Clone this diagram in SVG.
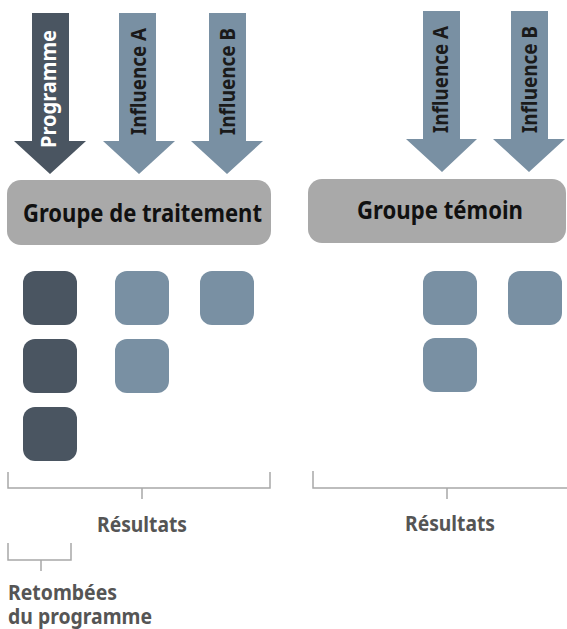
<svg xmlns="http://www.w3.org/2000/svg" width="567" height="629" viewBox="0 0 567 629">
  <style>
    .dark { fill: #4a5561; }
    .light { fill: #7990a3; }
    .box { fill: #a9a9a9; }
    .boxtxt { font-family: "Noto Sans", "Open Sans", sans-serif; font-weight: 700; font-size: 25px; fill: #111111; text-anchor: middle; }
    .arrtxt { font-family: "Noto Sans", "Open Sans", sans-serif; font-weight: 700; font-size: 22px; text-anchor: end; }
    .onDark { fill: #ffffff; }
    .onLight { fill: #1a1a1a; }
    .lbl { font-family: "Noto Sans", "Open Sans", sans-serif; font-weight: 700; font-size: 22px; fill: #555555; }
    .brk { fill: none; stroke: #a8a8a8; stroke-width: 1.5; }
  </style>

  <!-- Treatment group: incoming arrows -->
  <g id="arrow-programme">
    <polygon class="dark" points="32,13 69,13 69,141 86,141 50,174 14,141 32,141"/>
    <text class="arrtxt onDark" transform="translate(56,30) rotate(-90)" textLength="118" lengthAdjust="spacingAndGlyphs">Programme</text>
  </g>
  <g id="arrow-influence-a-treat">
    <polygon class="light" points="119,13 156,13 156,141 175,141 139,174 103,141 119,141"/>
    <text class="arrtxt onLight" transform="translate(146,28) rotate(-90)" textLength="107" lengthAdjust="spacingAndGlyphs">Influence A</text>
  </g>
  <g id="arrow-influence-b-treat">
    <polygon class="light" points="209,13 246,13 246,141 263,141 227,174 191,141 209,141"/>
    <text class="arrtxt onLight" transform="translate(235,28) rotate(-90)" textLength="107" lengthAdjust="spacingAndGlyphs">Influence B</text>
  </g>

  <!-- Control group: incoming arrows -->
  <g id="arrow-influence-a-ctrl">
    <polygon class="light" points="423,11 460,11 460,139 477,139 442,172 406,139 423,139"/>
    <text class="arrtxt onLight" transform="translate(448,26) rotate(-90)" textLength="107" lengthAdjust="spacingAndGlyphs">Influence A</text>
  </g>
  <g id="arrow-influence-b-ctrl">
    <polygon class="light" points="511,11 548,11 548,139 565,139 529,172 493,139 511,139"/>
    <text class="arrtxt onLight" transform="translate(537,26) rotate(-90)" textLength="107" lengthAdjust="spacingAndGlyphs">Influence B</text>
  </g>

  <!-- Group boxes -->
  <g id="box-treatment">
    <rect class="box" x="7" y="180" width="264" height="65" rx="14"/>
    <text class="boxtxt" x="142.5" y="222" textLength="239" lengthAdjust="spacingAndGlyphs">Groupe de traitement</text>
  </g>
  <g id="box-control">
    <rect class="box" x="308" y="179" width="258" height="64" rx="14"/>
    <text class="boxtxt" x="440" y="219" textLength="166" lengthAdjust="spacingAndGlyphs">Groupe témoin</text>
  </g>

  <!-- Outcome tiles -->
  <g id="tiles-treatment">
    <rect class="dark" x="23" y="271" width="54" height="54" rx="12"/>
    <rect class="dark" x="23" y="339" width="54" height="54" rx="12"/>
    <rect class="dark" x="23" y="407" width="54" height="54" rx="12"/>
    <rect class="light" x="115" y="271" width="54" height="54" rx="12"/>
    <rect class="light" x="115" y="339" width="54" height="54" rx="12"/>
    <rect class="light" x="200" y="271" width="54" height="54" rx="12"/>
  </g>
  <g id="tiles-control">
    <rect class="light" x="423" y="271" width="54" height="54" rx="12"/>
    <rect class="light" x="423" y="338" width="54" height="54" rx="12"/>
    <rect class="light" x="508" y="271" width="54" height="54" rx="12"/>
  </g>

  <!-- Brackets -->
  <g id="connectors">
    <path class="brk" d="M8,472 V488 H270 V472 M142,488 V499"/>
    <path class="brk" d="M313,471 V488 H581 V471 M447,488 V499"/>
    <path class="brk" d="M8,543 V560 H71 V543 M41,560 V571"/>
  </g>

  <!-- Bracket labels -->
  <g id="label-results-treatment">
    <text class="lbl" x="142" y="532" text-anchor="middle" textLength="90" lengthAdjust="spacingAndGlyphs">Résultats</text>
  </g>
  <g id="label-results-control">
    <text class="lbl" x="450" y="531" text-anchor="middle" textLength="90" lengthAdjust="spacingAndGlyphs">Résultats</text>
  </g>
  <g id="label-spillover">
    <text class="lbl" x="8" y="600" textLength="109" lengthAdjust="spacingAndGlyphs">Retombées</text>
    <text class="lbl" x="8" y="624" textLength="144" lengthAdjust="spacingAndGlyphs">du programme</text>
  </g>
</svg>
